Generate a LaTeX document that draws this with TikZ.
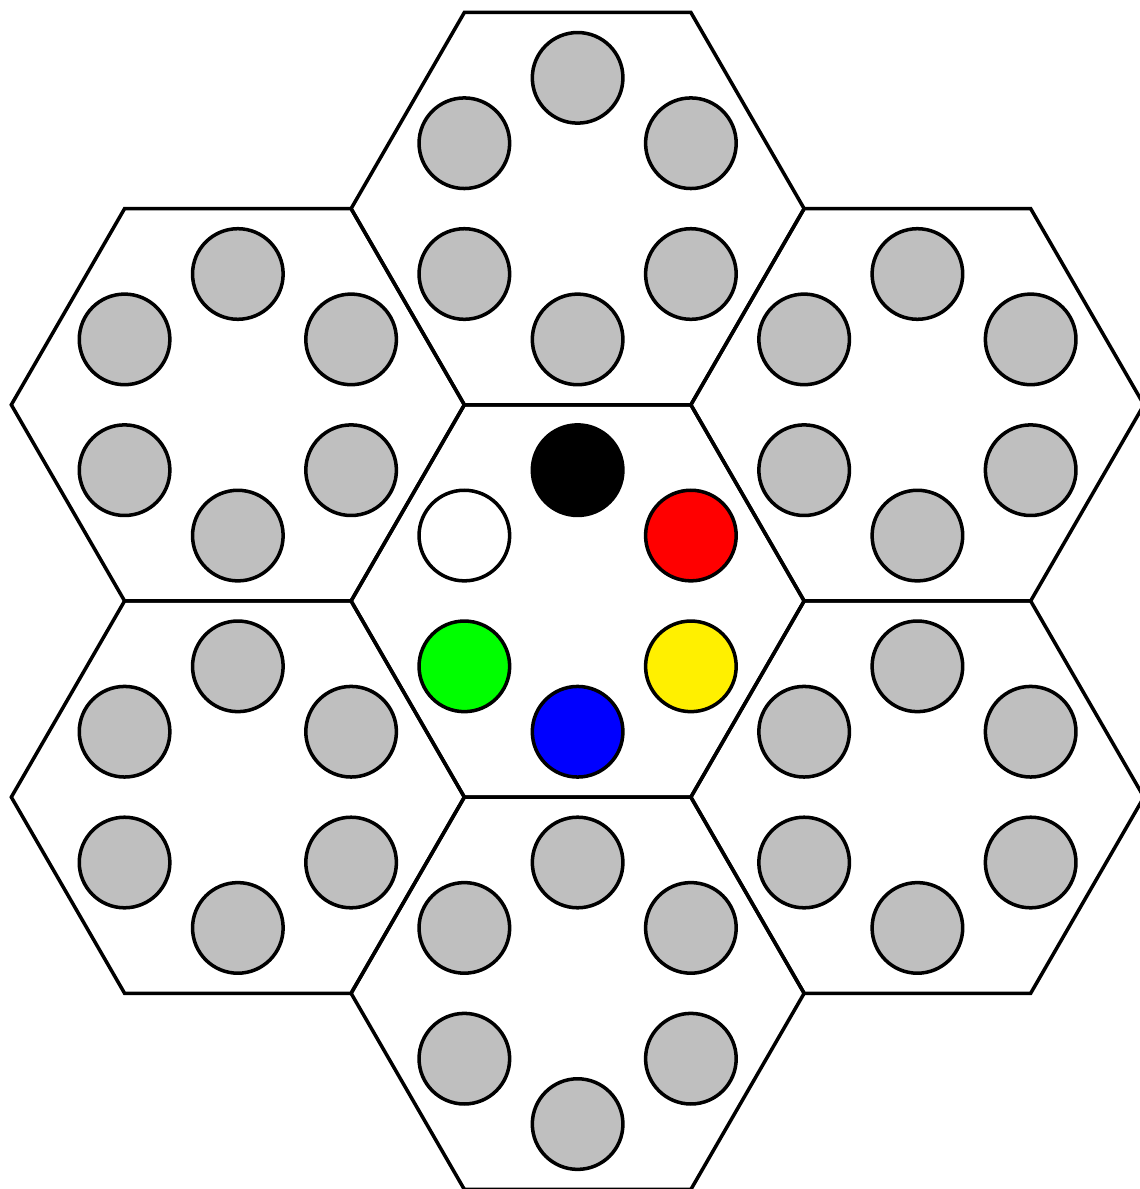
\documentclass[tikz,border=0pt]{standalone}
\usetikzlibrary{calc}
\definecolor{tokyellow}{RGB}{255,240,0}
\begin{document}
\begin{tikzpicture}[
        x=4.53cm,
        y=4.53cm,
        hexcell/.style={
            draw,
            line width=2pt,
            line join=miter
        },
        disc/.style={
            circle,
            draw,
            line width=2pt,
            minimum size=0.4*4.53cm,
            inner sep=0pt,
            fill=gray!50
        }
    ]

        \useasboundingbox (-2.55,-2.596) rectangle (2.48,2.653);

        % the seven cells
        \foreach \cx/\cy in {0/0, 0/1.732, 0/-1.732, 1.5/0.866, 1.5/-0.866, -1.5/0.866, -1.5/-0.866}{
            \draw[hexcell] (\cx,\cy) +(0:1) -- +(60:1) -- +(120:1) -- +(180:1) -- +(240:1) -- +(300:1) -- cycle;
        }

        % grey discs in the outer cells
        \foreach \cx/\cy/\nm in {0/1.732/top, 0/-1.732/bot, 1.5/0.866/ne, 1.5/-0.866/se, -1.5/0.866/nw, -1.5/-0.866/sw}{
            \foreach \a in {30,90,...,330}{
                \node[disc] (\nm-\a) at ($(\cx,\cy)+(\a:0.5774)$) {};
            }
        }

        % coloured discs in the middle cell
        \foreach \a/\col in {90/black, 30/red, -30/tokyellow, -90/blue, 210/green, 150/white}{
            \node[disc, fill=\col] (mid-\a) at (\a:0.5774) {};
        }

    \end{tikzpicture}
\end{document}
